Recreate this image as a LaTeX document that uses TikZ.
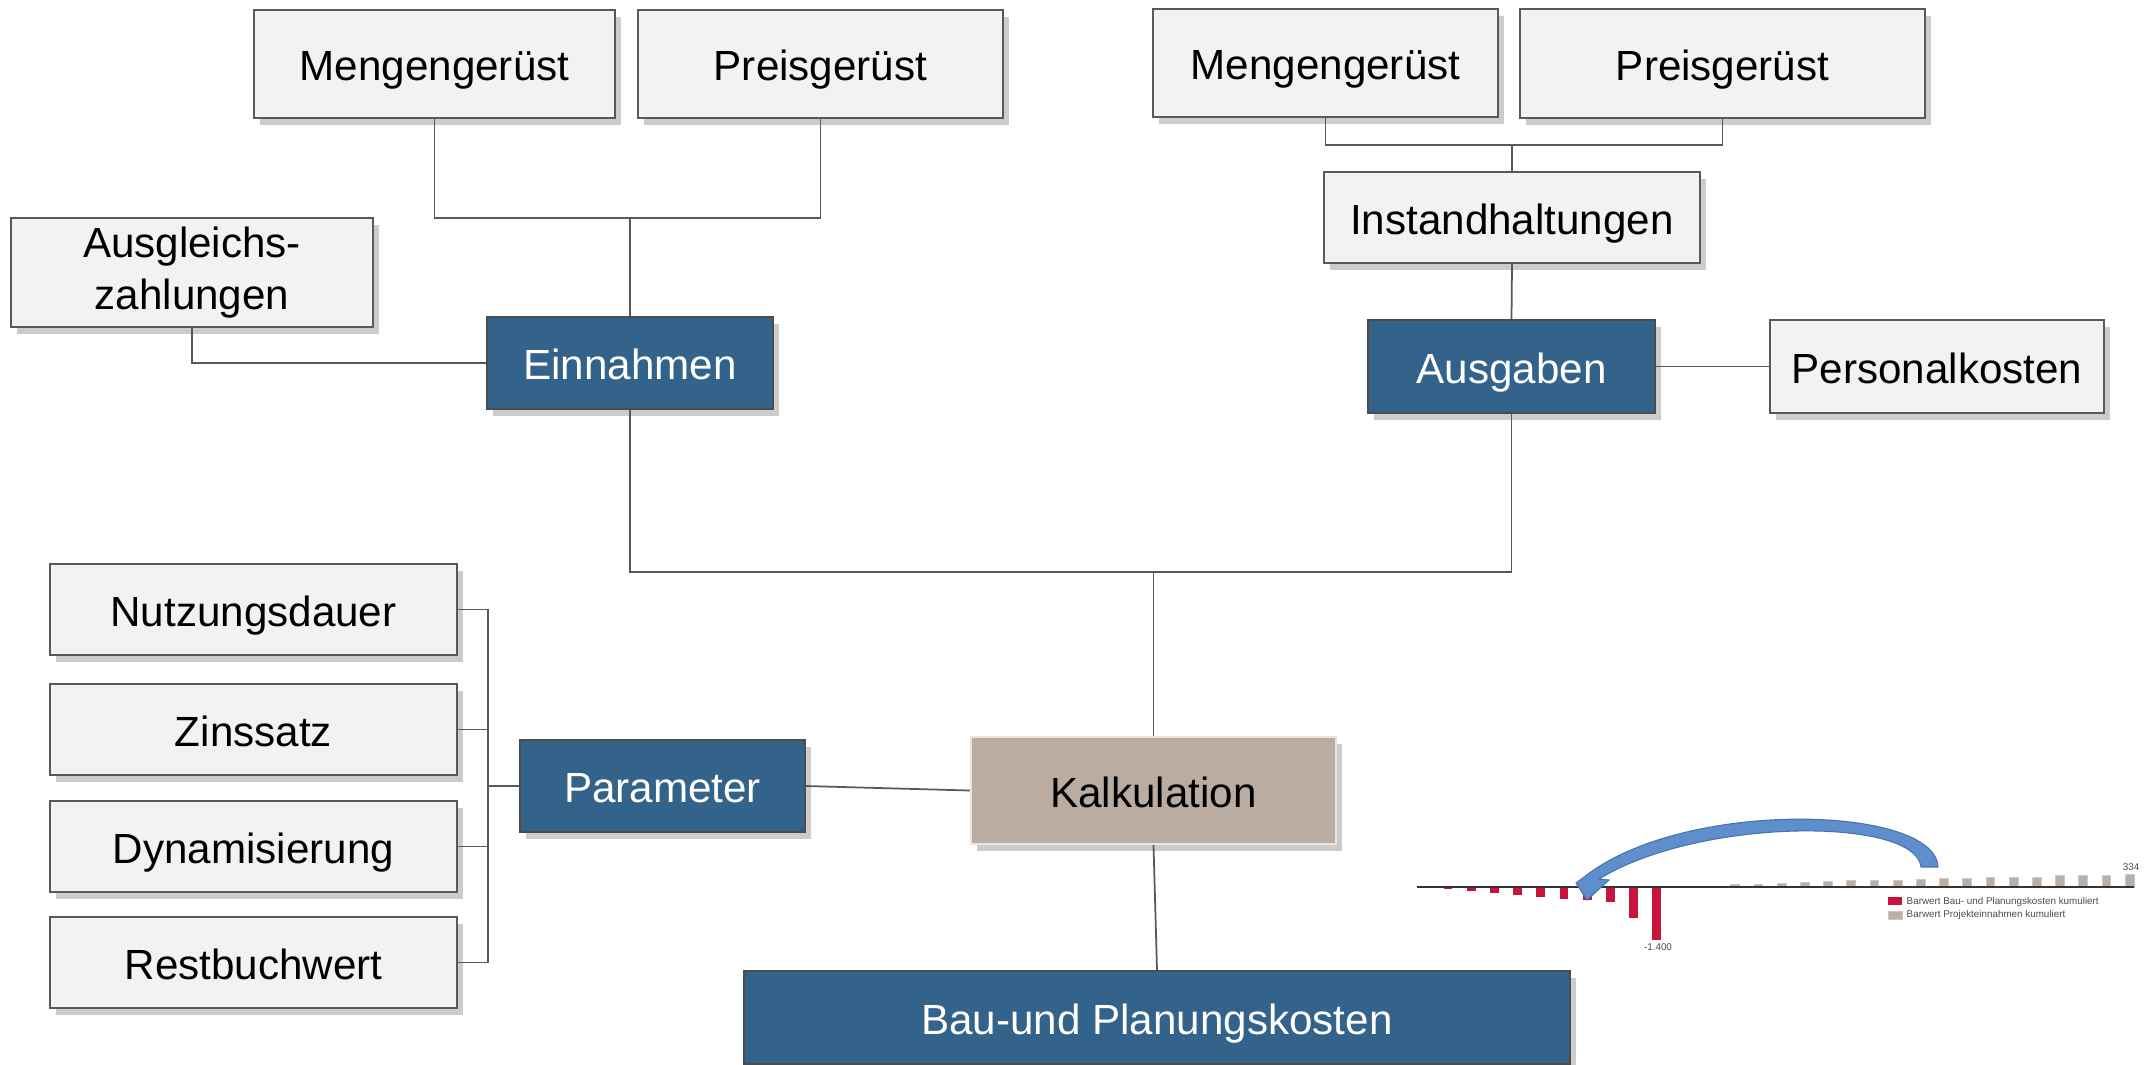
\documentclass[tikz,border=0pt]{standalone}
\usepackage{fontspec}
\setmainfont{Liberation Sans}
\usetikzlibrary{calc,shadows}
\definecolor{boxgray}{HTML}{F2F2F2}
\definecolor{edgegray}{HTML}{595959}
\definecolor{kpiblue}{HTML}{33628A}
\definecolor{kalkbeige}{HTML}{BAACA1}
\definecolor{barred}{HTML}{C8143C}
\definecolor{bargray}{HTML}{BCAFA5}
\definecolor{arrowblue}{HTML}{5E8ECB}
\definecolor{arrowedge}{HTML}{4674AE}
\tikzset{
	lightbox/.style={draw=edgegray, fill=boxgray, line width=0.6pt, inner sep=0pt, align=center,
		text height=0.33cm, text depth=0cm,
		font=\fontsize{12}{15}\selectfont,
		drop shadow={shadow xshift=0.06cm, shadow yshift=-0.07cm, opacity=0.4}},
	bluebox/.style={lightbox, fill=kpiblue, draw=black!70, text=white},
	kalkbox/.style={lightbox, fill=kalkbeige, draw=black!10},
	link/.style={draw=edgegray, line width=0.5pt},
	chartlabel/.style={inner sep=0pt, text=black!70, font=\fontsize{2.8}{3}\selectfont}
}

\begin{document}
\begin{tikzpicture}
			%%%%% START %%%%%
			\useasboundingbox (0, 0) rectangle (21.45, -10.64);
			
			% Einnahmen side
			\node[lightbox, minimum width=3.61cm, minimum height=1.08cm] (mengeL) at (4.345, -0.64) {Mengengerüst};
			\node[lightbox, minimum width=3.65cm, minimum height=1.08cm] (preisL) at (8.205, -0.64) {Preisgerüst};
			\node[lightbox, text height={}, text depth={}, minimum width=3.62cm, minimum height=1.09cm] (ausgl) at (1.92, -2.725) {Ausgleichs-\\zahlungen};
			\node[bluebox, minimum width=2.86cm, minimum height=0.92cm] (einn) at (6.30, -3.63) {Einnahmen};
			\coordinate (jEinn) at (6.30, -2.18);
			\draw[link] (mengeL.south) |- (jEinn) -| (preisL.south);
			\draw[link] (jEinn) -- (einn.north);
			\draw[link] (ausgl.south) |- (einn.west);
			
			% Ausgaben side
			\node[lightbox, minimum width=3.45cm, minimum height=1.08cm] (mengeR) at (13.255, -0.63) {Mengengerüst};
			\node[lightbox, minimum width=4.05cm, minimum height=1.09cm] (preisR) at (17.225, -0.635) {Preisgerüst};
			\node[lightbox, minimum width=3.76cm, minimum height=0.91cm] (instand) at (15.12, -2.175) {Instandhaltungen};
			\node[bluebox, minimum width=2.87cm, minimum height=0.93cm] (ausg) at (15.115, -3.665) {Ausgaben};
			\node[lightbox, minimum width=3.34cm, minimum height=0.93cm] (personal) at (19.37, -3.665) {Personalkosten};
			\coordinate (jAusg) at (15.12, -1.45);
			\draw[link] (mengeR.south) |- (jAusg) -| (preisR.south);
			\draw[link] (jAusg) -- (instand.north);
			\draw[link] (instand.south) -- (ausg.north);
			\draw[link] (ausg.east) -- (personal.west);
			
			% Parameter
			\node[lightbox, minimum width=4.07cm, minimum height=0.91cm] (nutz) at (2.535, -6.095) {Nutzungsdauer};
			\node[lightbox, minimum width=4.07cm, minimum height=0.91cm] (zins) at (2.535, -7.295) {Zinssatz};
			\node[lightbox, minimum width=4.07cm, minimum height=0.91cm] (dyn) at (2.535, -8.465) {Dynamisierung};
			\node[lightbox, minimum width=4.07cm, minimum height=0.91cm] (rest) at (2.535, -9.625) {Restbuchwert};
			\node[bluebox, minimum width=2.85cm, minimum height=0.92cm] (param) at (6.625, -7.86) {Parameter};
			\coordinate (busT) at (4.88, -6.095);
			\coordinate (busB) at (4.88, -9.625);
			\draw[link] (nutz.east) -- (busT) -- (busB) -- (rest.east);
			\draw[link] (zins.east) -- (zins.east -| busT);
			\draw[link] (dyn.east) -- (dyn.east -| busT);
			\draw[link] (param.west) -- (param.west -| busT);
			
			% Kalkulation
			\node[kalkbox, minimum width=3.65cm, minimum height=1.07cm] (kalk) at (11.535, -7.905) {Kalkulation};
			\node[bluebox, minimum width=8.26cm, minimum height=0.93cm] (bau) at (11.57, -10.175) {Bau-und Planungskosten};
			\coordinate (jKalk) at (11.535, -5.72);
			\draw[link] (einn.south) |- (jKalk) -| (ausg.south);
			\draw[link] (jKalk) -- (kalk.north);
			\draw[link] (param.east) -- (kalk.west);
			\draw[link] (kalk.south) -- (bau.north);
			
			% Barwert chart
			\foreach \v [count=\i from 0] in {-60,-105,-150,-205,-250,-305,-350,-390,-800,-1400}
				\fill[barred] ({14.4365+0.232*\i}, -8.87) rectangle ++(0.087, {0.00038*\v});
			\foreach \v [count=\i from 10] in {10,25,60,80,100,120,145,170,172,180,195,215,235,245,255,265,295,305,310,334}
				\filldraw[fill=bargray, draw=bargray!70!white, line width=0.2pt] ({14.5235+0.232*\i}, -8.87) rectangle ++(0.087, {0.00038*\v});
			\draw[black!80, line width=0.4pt] (14.17, -8.87) -- (21.34, -8.87);
			\node[chartlabel] (lblMin) at (16.58, -9.47) {-1.400};
			\node[chartlabel] (lblMax) at (21.31, -8.67) {334};
			\fill[barred] (18.88, -8.97) rectangle (19.02, -9.05);
			\node[chartlabel, anchor=west] (legRed) at (19.06, -9.02) {Barwert Bau- und Planungskosten kumuliert};
			\filldraw[fill=bargray, draw=bargray!70!white, line width=0.2pt] (18.88, -9.11) rectangle (19.02, -9.19);
			\node[chartlabel, anchor=west] (legGray) at (19.06, -9.15) {Barwert Projekteinnahmen kumuliert};
			
			% curved arrow
			\filldraw[fill=arrowblue, draw=arrowedge, line width=0.3pt]
				(19.38, -8.67) .. controls (19.36, -8.06) and (16.90, -7.98) .. (15.88, -8.74)
				-- (15.76, -8.83) -- (15.87, -9.00) -- (16.09, -8.80) -- (15.99, -8.79)
				.. controls (17.00, -8.17) and (19.16, -8.17) .. (19.21, -8.67) -- cycle;
			
			%%%%% END %%%%%
\end{tikzpicture}
\end{document}
